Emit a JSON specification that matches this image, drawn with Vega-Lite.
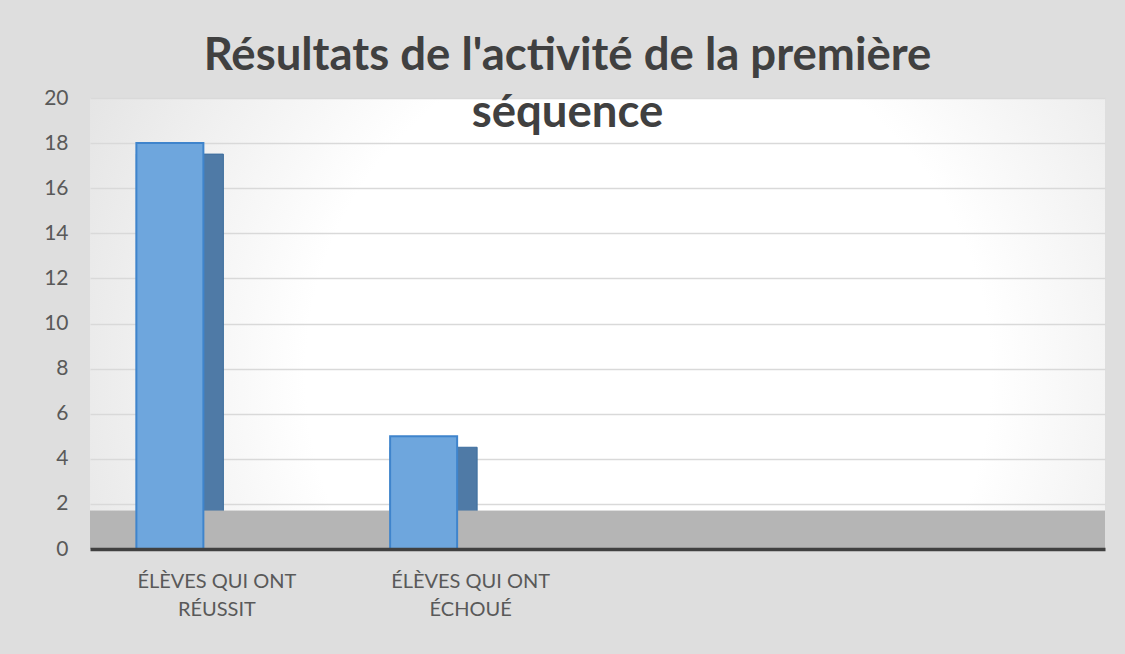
{
  "$schema": "https://vega.github.io/schema/vega-lite/v6.json",
  "width": 1015,
  "height": 451,
  "autosize": "none",
  "padding": {"left": 90, "top": 98, "right": 20, "bottom": 105},
  "background": "#dedede",
  "config": {
    "font": "Lato",
    "view": {
      "stroke": null,
      "fill": {
        "gradient": "radial",
        "x1": 0.55, "y1": 0.55, "r1": 0,
        "x2": 0.55, "y2": 0.55, "r2": 0.75,
        "stops": [
          {"offset": 0, "color": "#ffffff"},
          {"offset": 0.45, "color": "#ffffff"},
          {"offset": 1, "color": "#d8d8d8"}
        ]
      }
    }
  },
  "title": {
    "text": ["Résultats de l'activité de la première", "séquence"],
    "font": "Lato",
    "fontSize": 45.5,
    "fontWeight": "bold",
    "color": "#404040",
    "anchor": "middle",
    "frame": "group",
    "dx": -30,
    "baseline": "alphabetic",
    "offset": -85,
    "lineHeight": 57
  },
  "data": {
    "values": [
      {"categorie": "Élèves qui ont réussit", "effectif": 18},
      {"categorie": "Élèves qui ont échoué", "effectif": 5}
    ]
  },
  "layer": [
    {
      "mark": {"type": "bar", "width": 87, "xOffset": -37, "yOffset": 11, "clip": true, "color": "#4f7aa6", "stroke": "#3d6e9e", "strokeWidth": 1},
      "encoding": {
        "x": {
          "field": "categorie", "type": "nominal", "sort": null,
          "scale": {"domain": ["Élèves qui ont réussit", "Élèves qui ont échoué", "_3", "_4"], "paddingInner": 0, "paddingOuter": 0},
          "axis": {
            "title": null,
            "labelExpr": "indexof(['_3','_4'], datum.value) >= 0 ? '' : [upper(slice(datum.value, 0, 14)), upper(slice(datum.value, 15))]",
            "labelFont": "Lato",
            "labelFontSize": 20,
            "labelColor": "#595959",
            "labelPadding": 22,
            "labelLineHeight": 28,
            "labelAngle": 0,
            "ticks": false,
            "grid": false,
            "domainColor": "#404040",
            "domainWidth": 3.5,
            "zindex": 1
          }
        },
        "y": {
          "field": "effectif", "type": "quantitative",
          "scale": {"domain": [0, 20], "nice": false},
          "axis": {
            "title": null,
            "values": [0, 2, 4, 6, 8, 10, 12, 14, 16, 18, 20],
            "labelFont": "Lato",
            "labelFontSize": 21,
            "labelColor": "#595959",
            "labelPadding": 22,
            "domain": false,
            "ticks": false,
            "gridColor": "#d9d9d9",
            "gridWidth": 1.5
          }
        }
      }
    },
    {
      "mark": {"type": "rect", "color": "#b5b5b5"},
      "encoding": {
        "y": {"datum": 0, "type": "quantitative"},
        "y2": {"datum": 1.7}
      }
    },
    {
      "mark": {"type": "bar", "width": 67, "xOffset": -47, "color": "#6ea6dd", "stroke": "#3f84cc", "strokeWidth": 2},
      "encoding": {
        "x": {"field": "categorie", "type": "nominal", "sort": null},
        "y": {"field": "effectif", "type": "quantitative"}
      }
    }
  ]
}
